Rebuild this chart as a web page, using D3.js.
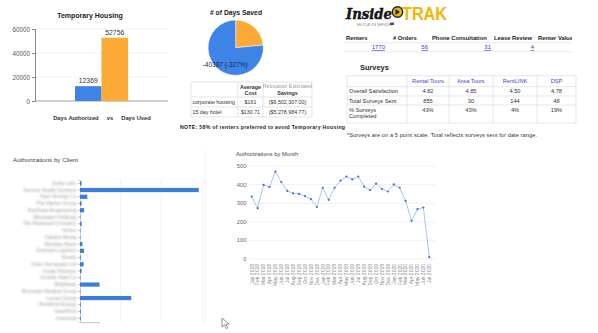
<!DOCTYPE html>
<html>
<head>
<meta charset="utf-8">
<script src="https://cdn.jsdelivr.net/npm/d3@7"></script>
<style>
  html, body { margin: 0; padding: 0; background: #fff; }
  svg { display: block; font-family: "Liberation Sans", Arial, sans-serif; }
</style>
</head>
<body>
<svg id="dash" width="598" height="333"></svg>
<script>
// ---- Temporary housing ----
const housingCats = ["Days Authorized", "Days Used"];
const housingVals = [12369, 52756];
const housingTicks = [0, 20000, 40000, 60000];

// ---- Days saved pie ----
const pieVals = [12369, 40387];
const pieLabel = "-40387 (-327%)";

// ---- Cost table ----
const costHeader = ["", "Average\nCost", "Savings"];
const costRows = [
  ["corporate housing", "$161", "($6,502,307.00)"],
  ["15 day hotel", "$130.71", "($5,278,984.77)"]
];
const housingNote = "NOTE: 58% of renters preferred to avoid Temporary Housing";

// ---- Service counts ----
const serviceHeads = ["Renters", "# Orders", "Phone Consultation", "Lease Review", "Renter Value"];
const serviceVals = ["1770", "56", "31", "4", ""];

// ---- Surveys ----
const surveyCols = ["Rental Tours", "Area Tours", "RentLINK", "DSP"];
const surveyRows = ["Overall Satisfaction", "Total Surveys Sent", "% Surveys\nCompleted"];
const surveySatisfaction = ["4.82", "4.85", "4.50", "4.78"];
const surveySent = ["855", "30", "144", "48"];
const surveyCompleted = ["43%", "43%", "4%", "19%"];
const surveyNote = "*Surveys are on a 5 point scale. Total reflects surveys sent for date range.";

// ---- Authorizations by client ----
const clients = ["Delta Labs", "Summit Health Systems", "Apex Energy Co", "The Harbor Group",
  "Northstar Engineering", "Bluewater Holdings", "The Redwood Company", "Vertex",
  "Oakline Media", "Meridian Bank", "Crescent Logistics", "Kinetic", "Orion Aerospace Ltd",
  "Cedar Partners", "Granite Data Co", "Brightway", "Riverside Medical Group",
  "Lumen Group", "Westfield Energy", "NovaTech", "Ironwood"];
const clientAuth = [2, 146, 9, 2, 5, 0.5, 2, 0.5, 0.5, 3, 5, 1, 4.5, 2, 0.5, 24, 0.5, 63, 1, 1, 1];
const clientTicks = [0, 50, 100, 150];

// ---- Authorizations by month ----
const months = ["Jan 2018","Feb 2018","Mar 2018","Apr 2018","May 2018","Jun 2018","Jul 2018",
  "Aug 2018","Sep 2018","Oct 2018","Nov 2018","Dec 2018","Jan 2019","Feb 2019","Mar 2019",
  "Apr 2019","May 2019","Jun 2019","Jul 2019","Aug 2019","Sep 2019","Oct 2019","Nov 2019",
  "Dec 2019","Jan 2020","Feb 2020","Mar 2020","Apr 2020","May 2020","Jun 2020","Jul 2020"];
const monthAuth = [336, 273, 398, 387, 470, 414, 366, 353, 350, 338, 322, 279, 383, 318, 383,
  421, 443, 428, 443, 389, 371, 405, 376, 363, 401, 383, 312, 205, 268, 277, 10];
const monthTicks = [0, 100, 200, 300, 400, 500];

const svg = d3.select("#dash");
const defs = svg.append("defs");
defs.append("filter").attr("id", "soft").append("feGaussianBlur").attr("stdDeviation", 0.75);
defs.append("filter").attr("id", "softer").append("feGaussianBlur").attr("stdDeviation", 0.95);
defs.append("clipPath").attr("id", "svcClip").append("rect")
  .attr("x", 340).attr("y", 0).attr("width", 232).attr("height", 60);

const BLUE = "#3d84e6", ORANGE = "#fbaa35";

// ================= Temporary Housing =================
{
  const g = svg.append("g");
  const y = d3.scaleLinear().domain([0, 60000]).range([101, 29]);
  const x = d3.scaleBand().domain(housingCats).range([75, 128]);
  g.append("text").attr("x", 90).attr("y", 18).attr("text-anchor", "middle")
    .attr("font-size", 7).attr("font-weight", "bold").attr("fill", "#222").text("Temporary Housing");
  g.selectAll(".grid").data(housingTicks.slice(1)).join("line")
    .attr("x1", 35).attr("x2", 168).attr("y1", d => y(d)).attr("y2", d => y(d))
    .attr("stroke", "#ececec").attr("stroke-width", 0.8);
  const ax = g.append("g").attr("transform", "translate(35,0)")
    .call(d3.axisLeft(y).tickValues(housingTicks).tickFormat(d3.format("d")).tickSize(3).tickPadding(2));
  ax.select(".domain").attr("stroke", "#888");
  ax.selectAll(".tick line").attr("stroke", "#888");
  ax.selectAll("text").attr("font-size", 6.3).attr("fill", "#555").attr("font-family", "Liberation Sans");
  g.append("line").attr("x1", 35).attr("x2", 168).attr("y1", y(0)).attr("y2", y(0)).attr("stroke", "#888").attr("stroke-width", 0.8);
  g.selectAll(".bar").data(housingVals).join("rect")
    .attr("x", (d, i) => x(housingCats[i])).attr("width", x.bandwidth())
    .attr("y", d => y(d)).attr("height", d => y(0) - y(d))
    .attr("fill", (d, i) => i === 0 ? BLUE : ORANGE);
  g.selectAll(".val").data(housingVals).join("text")
    .attr("x", (d, i) => x(housingCats[i]) + x.bandwidth() / 2).attr("y", d => y(d) - 3)
    .attr("text-anchor", "middle").attr("font-size", 6.8).attr("fill", "#333").text(d => d);
  g.append("text").attr("x", 102).attr("y", 120).attr("text-anchor", "middle")
    .attr("font-size", 5.8).attr("font-weight", "bold").attr("fill", "#333")
    .attr("xml:space", "preserve").text(housingCats[0] + "     vs     " + housingCats[1]);
}

// ================= Days Saved pie =================
{
  const g = svg.append("g").attr("transform", "translate(235.7,47.7)");
  svg.append("text").attr("x", 236).attr("y", 14.5).attr("text-anchor", "middle")
    .attr("font-size", 6.8).attr("font-weight", "bold").attr("fill", "#222").text("# of Days Saved");
  const arcs = d3.pie().sort(null)(pieVals);
  const arc = d3.arc().innerRadius(0).outerRadius(27.6);
  g.selectAll("path").data(arcs).join("path").attr("d", arc)
    .attr("fill", (d, i) => i === 0 ? ORANGE : BLUE).attr("stroke", "#fff").attr("stroke-width", 0.5);
  g.append("text").attr("x", -10.5).attr("y", 19).attr("text-anchor", "middle")
    .attr("font-size", 6.5).attr("fill", "#1d2a4a").text(pieLabel);
}

// ================= Cost table =================
{
  const g = svg.append("g");
  const cols = [191, 238, 263, 312];
  const rows = [82, 97, 107, 117];
  g.selectAll(".h").data(rows).join("line").attr("x1", cols[0]).attr("x2", cols[3])
    .attr("y1", d => d).attr("y2", d => d).attr("stroke", "#d8d8d8").attr("stroke-width", 0.7);
  g.selectAll(".v").data(cols).join("line").attr("y1", rows[0]).attr("y2", rows[3])
    .attr("x1", d => d).attr("x2", d => d).attr("stroke", "#d8d8d8").attr("stroke-width", 0.7);
  const hdr = g.append("text").attr("x", 250.5).attr("y", 88.5).attr("text-anchor", "middle")
    .attr("font-size", 5.4).attr("font-weight", "bold").attr("fill", "#333");
  costHeader[1].split("\n").forEach((t, i) => hdr.append("tspan").attr("x", 250.5).attr("dy", i ? 6 : 0).text(t));
  g.append("text").attr("x", 287.5).attr("y", 87.5).attr("text-anchor", "middle")
    .attr("font-size", 5.2).attr("fill", "#999").attr("filter", "url(#soft)").text("Relocation Estimated");
  g.append("text").attr("x", 287.5).attr("y", 94.5).attr("text-anchor", "middle")
    .attr("font-size", 5.4).attr("font-weight", "bold").attr("fill", "#333").text(costHeader[2]);
  costRows.forEach((r, i) => {
    const yy = rows[i + 1] + 7;
    g.append("text").attr("x", 192.5).attr("y", yy).attr("font-size", 5.3).attr("fill", "#333").text(r[0]);
    g.append("text").attr("x", 250.5).attr("y", yy).attr("text-anchor", "middle").attr("font-size", 5.3).attr("fill", "#333").text(r[1]);
    g.append("text").attr("x", 287.5).attr("y", yy).attr("text-anchor", "middle").attr("font-size", 5.3).attr("fill", "#333").text(r[2]);
  });
  g.append("text").attr("x", 180).attr("y", 129).attr("font-size", 5.2).attr("font-weight", "bold")
    .attr("fill", "#222").attr("textLength", 165).text(housingNote);
}

// ================= Logo =================
{
  const g = svg.append("g");
  g.append("text").attr("x", 346).attr("y", 18.5).attr("font-family", "DejaVu Serif")
    .attr("font-style", "italic").attr("font-weight", "bold").attr("font-size", 14)
    .attr("textLength", 46).attr("lengthAdjust", "spacingAndGlyphs")
    .attr("fill", "#1a1a1a").attr("stroke", "#000").attr("stroke-width", 0.4).text("Inside");
  g.append("circle").attr("cx", 397.5).attr("cy", 12).attr("r", 5.2).attr("fill", "#f2b705").attr("stroke", "#222").attr("stroke-width", 1.4);
  g.append("path").attr("d", "M395.5,9 L400,12 L395.5,15 Z").attr("fill", "#222");
  g.append("text").attr("x", 402).attr("y", 20).attr("font-family", "Liberation Sans")
    .attr("font-weight", "bold").attr("font-size", 18).attr("textLength", 45)
    .attr("lengthAdjust", "spacingAndGlyphs").attr("fill", "#f4b400").text("TRAK");
  g.append("text").attr("x", 357).attr("y", 25.5).attr("font-size", 3).attr("fill", "#888")
    .attr("filter", "url(#soft)").text("RELOCATION SERVICES");
  g.append("rect").attr("x", 390).attr("y", 22.5).attr("width", 4).attr("height", 2.5).attr("fill", "#555");
}

// ================= Service counts =================
{
  const g = svg.append("g").attr("clip-path", "url(#svcClip)");
  const hx = [346, 393, 432, 494, 538];
  const vx = [385, 428, 491, 534];
  g.append("line").attr("x1", 344).attr("x2", 598).attr("y1", 42.7).attr("y2", 42.7).attr("stroke", "#e4e4e4").attr("stroke-width", 0.7);
  g.append("line").attr("x1", 344).attr("x2", 598).attr("y1", 51.7).attr("y2", 51.7).attr("stroke", "#e4e4e4").attr("stroke-width", 0.7);
  g.selectAll(".sh").data(serviceHeads).join("text").attr("x", (d, i) => hx[i]).attr("y", 40)
    .attr("font-size", 5.8).attr("font-weight", "bold").attr("fill", "#222").text(d => d);
  g.selectAll(".sv").data(serviceVals.filter(d => d)).join("text").attr("x", (d, i) => vx[i]).attr("y", 49.3)
    .attr("text-anchor", "end").attr("font-size", 6).attr("fill", "#3b3bc4")
    .attr("text-decoration", "underline").text(d => d);
}

// ================= Surveys =================
{
  const g = svg.append("g");
  g.append("text").attr("x", 360).attr("y", 69.5).attr("font-size", 7.4).attr("font-weight", "bold")
    .attr("fill", "#222").text("Surveys");
  const cols = [347, 407, 449, 493, 537, 576];
  const rows = [75.7, 86.7, 96, 105, 123];
  g.selectAll(".h").data(rows).join("line").attr("x1", cols[0]).attr("x2", cols[5])
    .attr("y1", d => d).attr("y2", d => d).attr("stroke", "#dcdcdc").attr("stroke-width", 0.7);
  g.selectAll(".v").data(cols).join("line").attr("y1", rows[0]).attr("y2", rows[4])
    .attr("x1", d => d).attr("x2", d => d).attr("stroke", "#dcdcdc").attr("stroke-width", 0.7);
  const centers = cols.slice(1, 5).map((c, i) => (c + cols[i + 2]) / 2);
  g.selectAll(".sc").data(surveyCols).join("text").attr("x", (d, i) => centers[i]).attr("y", 83.3)
    .attr("text-anchor", "middle").attr("font-size", 5.7).attr("fill", "#4545d0").text(d => d);
  surveyRows.forEach((r, i) => {
    const t = g.append("text").attr("x", 349).attr("y", rows[i + 1] + 6.6).attr("font-size", 5.7).attr("fill", "#333");
    r.split("\n").forEach((s, k) => t.append("tspan").attr("x", 349).attr("dy", k ? 6.8 : 0).text(s));
  });
  [surveySatisfaction, surveySent, surveyCompleted].forEach((vals, i) => {
    g.selectAll(".r" + i).data(vals).join("text").attr("x", (d, k) => centers[k]).attr("y", rows[i + 1] + 6.6)
      .attr("text-anchor", "middle").attr("font-size", 5.7).attr("fill", "#333").text(d => d);
  });
  g.append("text").attr("x", 347).attr("y", 136.5).attr("font-size", 5.6).attr("fill", "#333")
    .attr("textLength", 190).text(surveyNote);
}

// ================= Authorizations by Client =================
{
  const g = svg.append("g");
  g.append("text").attr("x", 13).attr("y", 161.5).attr("font-size", 6.2).attr("fill", "#444").text("Authorizations by Client");
  g.append("line").attr("x1", 205).attr("x2", 205).attr("y1", 150).attr("y2", 324).attr("stroke", "#f0f0f0").attr("stroke-width", 1);
  const x = d3.scaleLinear().domain([0, 150]).range([80, 202]);
  const y = d3.scaleBand().domain(clients).range([179.9, 321.7]).paddingInner(0.38).paddingOuter(0.19);
  g.selectAll(".grid").data(clientTicks.slice(1)).join("line")
    .attr("x1", d => x(d)).attr("x2", d => x(d)).attr("y1", 179).attr("y2", 322)
    .attr("stroke", "#f0f0f0").attr("stroke-width", 0.8);
  const ax = g.append("g").attr("transform", "translate(80,0)")
    .call(d3.axisLeft(y).tickSize(2).tickPadding(1.5));
  ax.select(".domain").attr("stroke", "#d8d8d8");
  ax.selectAll(".tick line").attr("stroke", "#bbb");
  ax.selectAll("text").attr("font-size", 5).attr("fill", "#a0a0a0").attr("font-family", "Liberation Sans")
    .attr("filter", "url(#softer)");
  g.selectAll(".bar").data(clientAuth).join("rect")
    .attr("x", x(0)).attr("y", (d, i) => y(clients[i])).attr("height", y.bandwidth())
    .attr("width", d => x(d) - x(0)).attr("fill", "#3b7ddd");
  g.append("rect").attr("x", 80).attr("y", 322).attr("width", 20).attr("height", 1.2).attr("fill", "#ccc").attr("filter", "url(#soft)");
}

// ================= Authorizations by Month =================
{
  const g = svg.append("g");
  g.append("text").attr("x", 236).attr("y", 156).attr("font-size", 5.8).attr("fill", "#444").text("Authorizations by Month");
  const x = d3.scalePoint().domain(months).range([251.7, 429.3]);
  const y = d3.scaleLinear().domain([0, 500]).range([259, 166]);
  g.selectAll(".grid").data(monthTicks).join("line")
    .attr("x1", 249).attr("x2", 435).attr("y1", d => y(d)).attr("y2", d => y(d))
    .attr("stroke", "#ececec").attr("stroke-width", 0.8);
  g.selectAll(".yl").data(monthTicks).join("text").attr("x", 246.5).attr("y", d => y(d) + 2)
    .attr("text-anchor", "end").attr("font-size", 5.8).attr("fill", "#666").text(d => d);
  g.selectAll(".xl").data(months).join("text")
    .attr("transform", d => `translate(${x(d) + 1.8},264) rotate(-90)`)
    .attr("text-anchor", "end").attr("font-size", 5).attr("fill", "#888").text(d => d);
  const line = d3.line().x((d, i) => x(months[i])).y(d => y(d));
  g.append("path").datum(monthAuth).attr("d", line).attr("fill", "none")
    .attr("stroke", "#9dbcf0").attr("stroke-width", 0.9);
  g.selectAll(".pt").data(monthAuth).join("circle")
    .attr("cx", (d, i) => x(months[i])).attr("cy", d => y(d)).attr("r", 1.1).attr("fill", "#4a6cc4");
}

// pointer
svg.append("path").attr("d", "M222,318 L222,327 L224.4,324.9 L226.3,328.6 L227.8,327.9 L225.9,324.3 L229.2,324.1 Z")
  .attr("fill", "#fff").attr("stroke", "#666").attr("stroke-width", 0.7);
</script>
</body>
</html>
